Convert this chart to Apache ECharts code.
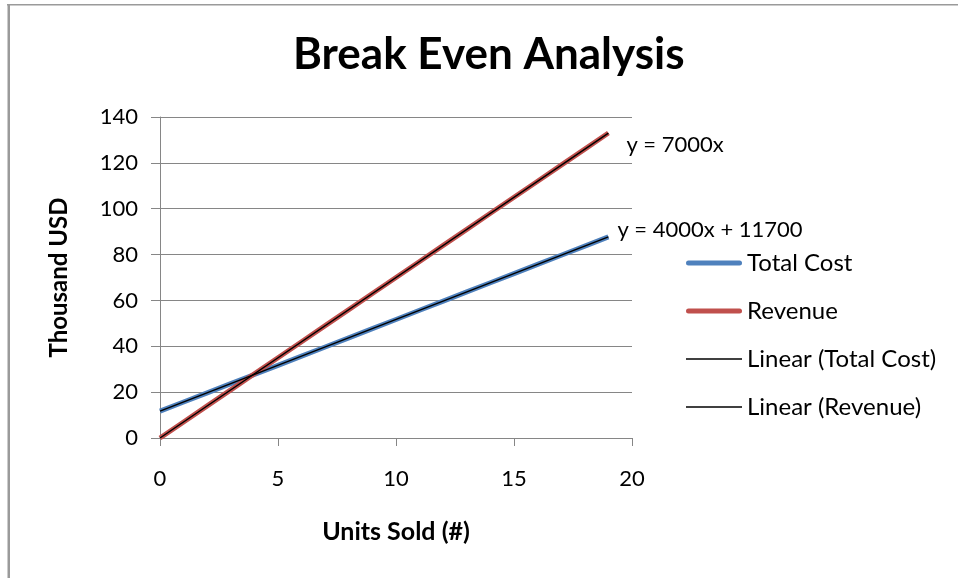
<!DOCTYPE html>
<html>
<head>
<meta charset="utf-8">
<script src="https://cdn.jsdelivr.net/npm/echarts@6/dist/echarts.min.js"></script>
<style>
html,body{margin:0;padding:0;background:#fff;}
#chart{width:958px;height:578px;}
</style>
</head>
<body>
<div id="chart"></div>
<script>
// Units sold (#)
var units = [0,1,2,3,4,5,6,7,8,9,10,11,12,13,14,15,16,17,18,19];
// Thousand USD
var totalCost = [11.7,15.7,19.7,23.7,27.7,31.7,35.7,39.7,43.7,47.7,51.7,55.7,59.7,63.7,67.7,71.7,75.7,79.7,83.7,87.7];
var revenue = [0,7,14,21,28,35,42,49,56,63,70,77,84,91,98,105,112,119,126,133];
// Trendline end points
var trendX = [0, 19];
var trendCost = [11.7, 87.7];
var trendRevenue = [0, 133];
var seriesNames = ['Total Cost', 'Revenue', 'Linear (Total Cost)', 'Linear (Revenue)'];
var equations = ['y = 4000x + 11700', 'y = 7000x'];

function pairs(xs, ys){ return xs.map(function(x,i){ return [x, ys[i]]; }); }

var FONT = 'Lato, "Open Sans", sans-serif';
var GRID = '#868686';
var THICK = 'path://M2.5,0 H53.5 A2.5,2.5 0 0 1 53.5,5 H2.5 A2.5,2.5 0 0 1 2.5,0 Z';
var THIN = 'path://M0,0 H56 V1.6 H0 Z';

var chart = echarts.init(document.getElementById('chart'), null, {renderer:'canvas'});
chart.setOption({
  animation:false,
  backgroundColor:'#ffffff',
  textStyle:{fontFamily:FONT, color:'#000'},
  title:{
    text:'Break Even Analysis',
    left:288,
    top:28,
    textStyle:{fontFamily:FONT, fontSize:44, fontWeight:'bold', color:'#000'}
  },
  grid:{left:160, right:326, top:117, bottom:140, containLabel:false},
  xAxis:{
    type:'value', min:0, max:20, interval:5,
    name:'Units Sold (#)', nameLocation:'middle', nameGap:81,
    nameTextStyle:{fontFamily:FONT, fontSize:25, fontWeight:'bold', color:'#000'},
    axisLine:{show:true, lineStyle:{color:GRID, width:1}},
    axisTick:{show:true, length:8, lineStyle:{color:GRID}},
    splitLine:{show:false},
    axisLabel:{fontFamily:FONT, fontSize:22, color:'#000', margin:30}
  },
  yAxis:{
    type:'value', min:0, max:140, interval:20,
    name:'Thousand USD', nameLocation:'middle', nameGap:89,
    nameTextStyle:{fontFamily:FONT, fontSize:24, fontWeight:'bold', color:'#000'},
    axisLine:{show:true, lineStyle:{color:GRID, width:1}},
    axisTick:{show:true, length:9, lineStyle:{color:GRID}},
    splitLine:{show:true, lineStyle:{color:GRID, width:1}},
    axisLabel:{fontFamily:FONT, fontSize:22, color:'#000', margin:22}
  },
  legend:{
    orient:'vertical', left:681, top:245,
    itemWidth:56, itemHeight:5, itemGap:22, symbolKeepAspect:true,
    textStyle:{fontFamily:FONT, fontSize:24, color:'#000', lineHeight:26},
    data:[
      {name:seriesNames[0], icon:THICK, itemStyle:{color:'#4F81BD'}},
      {name:seriesNames[1], icon:THICK, itemStyle:{color:'#C0504D'}},
      {name:seriesNames[2], icon:THIN, itemStyle:{color:'#000'}},
      {name:seriesNames[3], icon:THIN, itemStyle:{color:'#000'}}
    ]
  },
  series:[
    {name:seriesNames[0], type:'line', data:pairs(units,totalCost), symbol:'none',
     lineStyle:{color:'#4F81BD', width:5}, itemStyle:{color:'#4F81BD'}, z:2},
    {name:seriesNames[1], type:'line', data:pairs(units,revenue), symbol:'none',
     lineStyle:{color:'#C0504D', width:5}, itemStyle:{color:'#C0504D'}, z:2},
    {name:seriesNames[2], type:'line', data:pairs(trendX,trendCost), symbol:'none',
     lineStyle:{color:'#000', width:1.5}, itemStyle:{color:'#000'}, z:3,
     endLabel:{show:true, formatter:equations[0], fontFamily:FONT, fontSize:22, color:'#000', distance:0, offset:[9,-7]}},
    {name:seriesNames[3], type:'line', data:pairs(trendX,trendRevenue), symbol:'none',
     lineStyle:{color:'#000', width:1.5}, itemStyle:{color:'#000'}, z:3,
     endLabel:{show:true, formatter:equations[1], fontFamily:FONT, fontSize:22, color:'#000', distance:0, offset:[18,12]}}
  ],
  graphic:[
    {type:'rect', shape:{x:7, y:4, width:960, height:1.5}, style:{fill:'#9a9a9a'}, silent:true},
    {type:'rect', shape:{x:7.5, y:4, width:2.5, height:580}, style:{fill:'#9a9a9a'}, silent:true}
  ]
});
</script>
</body>
</html>
